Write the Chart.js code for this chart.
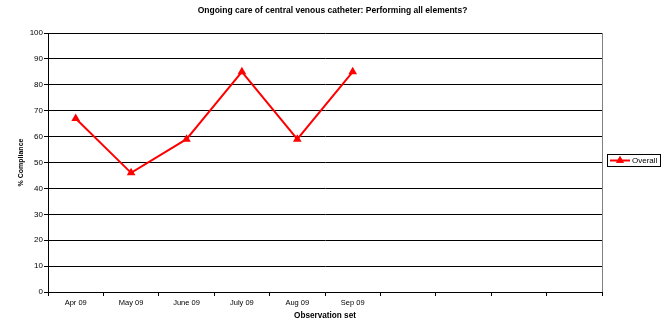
<!DOCTYPE html>
<html>
<head>
<meta charset="utf-8">
<script src="https://cdn.jsdelivr.net/npm/chart.js@4/dist/chart.umd.min.js"></script>
<style>
  html, body { margin: 0; padding: 0; background: #fff; }
  #wrap { width: 665px; height: 326px; }
</style>
</head>
<body>
<div id="wrap"><canvas id="chart" width="665" height="326"></canvas></div>
<script>
// observation sets (last four columns are empty in the original)
var categories = ["Apr 09", "May 09", "June 09", "July 09", "Aug 09", "Sep 09", "", "", "", ""];
// % compliance
var overall = [67, 46, 59, 85, 59, 85];
var yTicks = { min: 0, max: 100, step: 10 };

var FONT = "'Liberation Sans', Arial, sans-serif";

// legend box + right border of the plot, drawn by hand like the Excel original
var excelBits = {
  id: "excelBits",
  beforeDatasetsDraw: function (chart) {
    var a = chart.chartArea, ctx = chart.ctx;
    ctx.save();
    ctx.strokeStyle = "#808080";
    ctx.lineWidth = 1;
    ctx.beginPath();
    ctx.moveTo(Math.round(a.right) + 0.5, a.top);
    ctx.lineTo(Math.round(a.right) + 0.5, a.bottom);
    ctx.stroke();
    ctx.restore();
  },
  afterDraw: function (chart) {
    var ctx = chart.ctx;
    var ds = chart.data.datasets[0];
    var x = 607, y = 154, w = 53, h = 12;
    ctx.save();
    ctx.strokeStyle = "#000";
    ctx.lineWidth = 1;
    ctx.strokeRect(x + 0.5, y + 0.5, w, h);
    var cy = y + h / 2 + 0.5;
    ctx.strokeStyle = ds.borderColor;
    ctx.lineWidth = 2;
    ctx.beginPath();
    ctx.moveTo(x + 3, cy);
    ctx.lineTo(x + 23, cy);
    ctx.stroke();
    ctx.fillStyle = ds.borderColor;
    Chart.helpers.drawPoint(ctx, { pointStyle: "triangle", radius: 4.5, borderWidth: 0 }, x + 13, cy);
    ctx.fill();
    ctx.fillStyle = "#000";
    ctx.font = "8px " + FONT;
    ctx.textBaseline = "middle";
    ctx.fillText(ds.label, x + 25, cy);
    ctx.restore();
  }
};

var ctx = document.getElementById("chart").getContext("2d");
var myChart = new Chart(ctx, {
  type: "line",
  data: {
    labels: categories,
    datasets: [
      {
        label: "Overall",
        data: overall,
        borderColor: "#ff0000",
        backgroundColor: "#ff0000",
        borderWidth: 2,
        pointStyle: "triangle",
        pointRadius: 5,
        pointBorderWidth: 0,
        tension: 0,
        fill: false,
      },
    ],
  },
  options: {
    responsive: false,
    animation: false,
    devicePixelRatio: 1,
    layout: { padding: 0 },
    plugins: {
      legend: { display: false },
      tooltip: { enabled: false },
      title: {
        display: true,
        text: "Ongoing care of central venous catheter: Performing all elements?",
        color: "#000",
        font: { family: FONT, size: 8.5, weight: "bold", lineHeight: 1.2 },
        padding: { top: 6, bottom: 16.8 },
      },
    },
    scales: {
      x: {
        type: "category",
        offset: true,
        grid: { offset: true, drawOnChartArea: false, drawTicks: true, tickLength: 4, color: "#000" },
        border: { display: true, color: "#000", width: 1 },
        ticks: { autoSkip: false, maxRotation: 0, padding: 2, color: "#000", font: { family: FONT, size: 7.5 } },
        title: {
          display: true,
          text: "Observation set",
          color: "#000",
          font: { family: FONT, size: 8.2, weight: "bold", lineHeight: 1.2 },
          padding: { top: 0, bottom: 5 },
        },
        afterFit: function (s) { s.height = 34; },
      },
      y: {
        min: yTicks.min,
        max: yTicks.max,
        grid: { color: "#000", lineWidth: 1, drawTicks: true, tickLength: 4 },
        border: { display: true, color: "#000", width: 1 },
        ticks: { stepSize: yTicks.step, padding: 1, color: "#000", font: { family: FONT, size: 8 } },
        title: {
          display: true,
          text: "% Compliance",
          color: "#000",
          font: { family: FONT, size: 7, weight: "bold", lineHeight: 1.2 },
          padding: { top: 17, bottom: 0 },
        },
        afterFit: function (s) { s.width = 48; },
      },
      // empty strip on the right that holds the legend
      legendSpace: {
        type: "linear",
        position: "right",
        display: true,
        grid: { display: false },
        border: { display: false },
        ticks: { display: false },
        afterFit: function (s) { s.width = 63; },
      },
    },
  },
  plugins: [excelBits],
});
</script>
</body>
</html>
